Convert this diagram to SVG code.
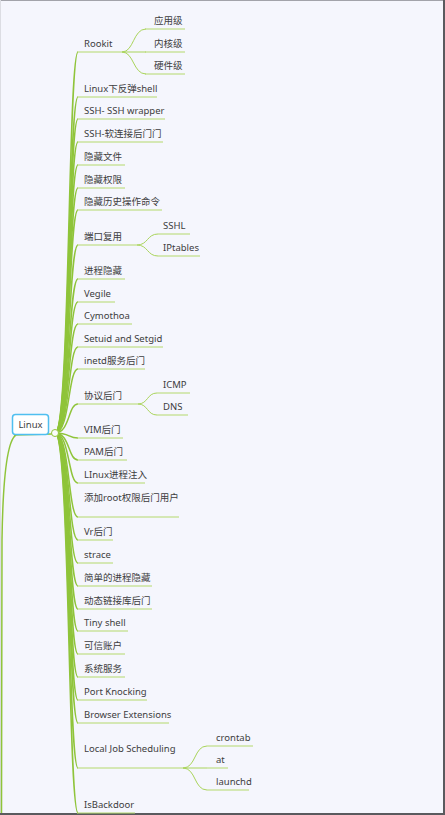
<svg xmlns="http://www.w3.org/2000/svg" width="445" height="815" viewBox="0 0 445 815">
<style>
text{font-family:"Noto Sans","Noto Sans CJK SC",sans-serif;font-size:9.5px;fill:#3d3d40;}
.fan{fill:none;stroke:#8fc43a;stroke-width:1.5;}
.sub{fill:none;stroke:#a9d45a;stroke-width:1;}
.ul{stroke:#b4d96c;stroke-width:1;}
</style>
<rect x="0" y="0" width="445" height="815" fill="#f5f6fd"/>
<line x1="0" y1="0.5" x2="445" y2="0.5" stroke="#a2a3aa" stroke-width="1"/>
<line x1="0.5" y1="0" x2="0.5" y2="815" stroke="#dcdde3" stroke-width="1"/>
<line x1="444" y1="0" x2="444" y2="815" stroke="#5a5a5e" stroke-width="2"/>
<line x1="0" y1="814" x2="445" y2="814" stroke="#5a5a5e" stroke-width="2"/>
<g id="connectors">
<path class="fan" d="M16,435 C8,440 3,470 2,540 L1.5,813" stroke-width="1.5"/>
<line class="fan" x1="14" y1="435" x2="52" y2="434"/>
<path class="fan" d="M55,433 C70,433 68,52 78,52"/>
<path class="fan" d="M55,433 C70,433 68,97 78,97"/>
<path class="fan" d="M55,433 C70,433 68,119 78,119"/>
<path class="fan" d="M55,433 C70,433 68,142 78,142"/>
<path class="fan" d="M55,433 C70,433 68,165 78,165"/>
<path class="fan" d="M55,433 C70,433 68,188 78,188"/>
<path class="fan" d="M55,433 C70,433 68,210 78,210"/>
<path class="fan" d="M55,433 C70,433 68,245 78,245"/>
<path class="fan" d="M55,433 C70,433 68,279 78,279"/>
<path class="fan" d="M55,433 C70,433 68,302 78,302"/>
<path class="fan" d="M55,433 C70,433 68,324 78,324"/>
<path class="fan" d="M55,433 C70,433 68,347 78,347"/>
<path class="fan" d="M55,433 C70,433 68,369 78,369"/>
<path class="fan" d="M55,433 C70,433 68,404 78,404"/>
<path class="fan" d="M55,433 C70,433 68,438 78,438"/>
<path class="fan" d="M55,433 C70,433 68,460 78,460"/>
<path class="fan" d="M55,433 C70,433 68,483 78,483"/>
<path class="fan" d="M55,433 C70,433 68,517 78,517"/>
<path class="fan" d="M55,433 C70,433 68,540 78,540"/>
<path class="fan" d="M55,433 C70,433 68,563 78,563"/>
<path class="fan" d="M55,433 C70,433 68,586 78,586"/>
<path class="fan" d="M55,433 C70,433 68,609 78,609"/>
<path class="fan" d="M55,433 C70,433 68,631 78,631"/>
<path class="fan" d="M55,433 C70,433 68,654 78,654"/>
<path class="fan" d="M55,433 C70,433 68,677 78,677"/>
<path class="fan" d="M55,433 C70,433 68,700 78,700"/>
<path class="fan" d="M55,433 C70,433 68,723 78,723"/>
<path class="fan" d="M55,433 C70,433 68,768 78,768"/>
<path class="fan" d="M55,433 C70,433 68,813 78,813"/>
<path class="sub" d="M122,52 C134,52 133,29 146,29"/>
<path class="sub" d="M122,52 L146,52"/>
<path class="sub" d="M122,52 C134,52 133,74 146,74"/>
<path class="sub" d="M137,245 C148,245 147,234 158,234"/>
<path class="sub" d="M137,245 C148,245 147,256 158,256"/>
<path class="sub" d="M138,404 C148,404 147,393 157,393"/>
<path class="sub" d="M138,404 C148,404 147,415 157,415"/>
<path class="sub" d="M183,768 C196,768 194,746 207,746"/>
<path class="sub" d="M183,768 L207,768"/>
<path class="sub" d="M183,768 C196,768 194,790 207,790"/>
<circle cx="55" cy="433" r="3.5" fill="#fbfcff" stroke="#93c63a" stroke-width="1"/>
</g>
<g id="root"><rect x="12.5" y="414.5" width="36" height="20" rx="3" fill="#ffffff" stroke="#4fbff0" stroke-width="1.5"/><text x="30.5" y="428" text-anchor="middle">Linux</text></g>
<g id="n1"><line class="ul" x1="77" y1="52" x2="122" y2="52"/><text x="84" y="46.5">Rookit</text></g>
<g id="n1a"><line class="ul" x1="145" y1="29" x2="185" y2="29"/><text x="154" y="23.5">应用级</text></g>
<g id="n1b"><line class="ul" x1="145" y1="52" x2="185" y2="52"/><text x="154" y="46.5">内核级</text></g>
<g id="n1c"><line class="ul" x1="145" y1="74" x2="185" y2="74"/><text x="154" y="68.5">硬件级</text></g>
<g id="n2"><line class="ul" x1="77" y1="97" x2="157" y2="97"/><text x="84" y="91.5">Linux下反弹shell</text></g>
<g id="n3"><line class="ul" x1="77" y1="119" x2="165" y2="119"/><text x="84" y="113.5">SSH- SSH wrapper</text></g>
<g id="n4"><line class="ul" x1="77" y1="142" x2="163" y2="142"/><text x="84" y="136.5">SSH-软连接后门门</text></g>
<g id="n5"><line class="ul" x1="77" y1="165" x2="125" y2="165"/><text x="84" y="159.5">隐藏文件</text></g>
<g id="n6"><line class="ul" x1="77" y1="188" x2="125" y2="188"/><text x="84" y="182.5">隐藏权限</text></g>
<g id="n7"><line class="ul" x1="77" y1="210" x2="162" y2="210"/><text x="84" y="204.5">隐藏历史操作命令</text></g>
<g id="n8"><line class="ul" x1="77" y1="245" x2="137" y2="245"/><text x="84" y="239.5">端口复用</text></g>
<g id="n8a"><line class="ul" x1="158" y1="234" x2="190" y2="234"/><text x="163" y="228.5">SSHL</text></g>
<g id="n8b"><line class="ul" x1="158" y1="256" x2="200" y2="256"/><text x="163" y="250.5">IPtables</text></g>
<g id="n9"><line class="ul" x1="77" y1="279" x2="125" y2="279"/><text x="84" y="273.5">进程隐藏</text></g>
<g id="n10"><line class="ul" x1="77" y1="302" x2="115" y2="302"/><text x="84" y="296.5">Vegile</text></g>
<g id="n11"><line class="ul" x1="77" y1="324" x2="132" y2="324"/><text x="84" y="318.5">Cymothoa</text></g>
<g id="n12"><line class="ul" x1="77" y1="347" x2="163" y2="347"/><text x="84" y="341.5">Setuid and Setgid</text></g>
<g id="n13"><line class="ul" x1="77" y1="369" x2="145" y2="369"/><text x="84" y="363.5">inetd服务后门</text></g>
<g id="n14"><line class="ul" x1="77" y1="404" x2="138" y2="404"/><text x="84" y="398.5">协议后门</text></g>
<g id="n14a"><line class="ul" x1="157" y1="393" x2="190" y2="393"/><text x="163" y="387.5">ICMP</text></g>
<g id="n14b"><line class="ul" x1="157" y1="415" x2="188" y2="415"/><text x="163" y="409.5">DNS</text></g>
<g id="n15"><line class="ul" x1="77" y1="438" x2="123" y2="438"/><text x="84" y="432.5">VIM后门</text></g>
<g id="n16"><line class="ul" x1="77" y1="460" x2="127" y2="460"/><text x="84" y="454.5">PAM后门</text></g>
<g id="n17"><line class="ul" x1="77" y1="483" x2="145" y2="483"/><text x="84" y="477.5">LInux进程注入</text></g>
<g id="n18"><line class="ul" x1="77" y1="517" x2="179" y2="517"/><text x="84" y="501">添加root权限后门用户</text></g>
<g id="n19"><line class="ul" x1="77" y1="540" x2="113" y2="540"/><text x="84" y="534.5">Vr后门</text></g>
<g id="n20"><line class="ul" x1="77" y1="563" x2="113" y2="563"/><text x="84" y="557.5">strace</text></g>
<g id="n21"><line class="ul" x1="77" y1="586" x2="152" y2="586"/><text x="84" y="580.5">简单的进程隐藏</text></g>
<g id="n22"><line class="ul" x1="77" y1="609" x2="152" y2="609"/><text x="84" y="603.5">动态链接库后门</text></g>
<g id="n23"><line class="ul" x1="77" y1="631" x2="128" y2="631"/><text x="84" y="625.5">Tiny shell</text></g>
<g id="n24"><line class="ul" x1="77" y1="654" x2="125" y2="654"/><text x="84" y="648.5">可信账户</text></g>
<g id="n25"><line class="ul" x1="77" y1="677" x2="125" y2="677"/><text x="84" y="671.5">系统服务</text></g>
<g id="n26"><line class="ul" x1="77" y1="700" x2="147" y2="700"/><text x="84" y="694.5">Port Knocking</text></g>
<g id="n27"><line class="ul" x1="77" y1="723" x2="169" y2="723"/><text x="84" y="717.5">Browser Extensions</text></g>
<g id="n28"><line class="ul" x1="77" y1="768" x2="183" y2="768"/><text x="84" y="751.5">Local Job Scheduling</text></g>
<g id="n28a"><line class="ul" x1="207" y1="746" x2="253" y2="746"/><text x="216" y="740.5">crontab</text></g>
<g id="n28b"><line class="ul" x1="207" y1="768" x2="228" y2="768"/><text x="216" y="762.5">at</text></g>
<g id="n28c"><line class="ul" x1="207" y1="790" x2="249" y2="790"/><text x="216" y="784.5">launchd</text></g>
<g id="n29"><line class="ul" x1="77" y1="813" x2="135" y2="813"/><text x="84" y="807.5">IsBackdoor</text></g>
</svg>
